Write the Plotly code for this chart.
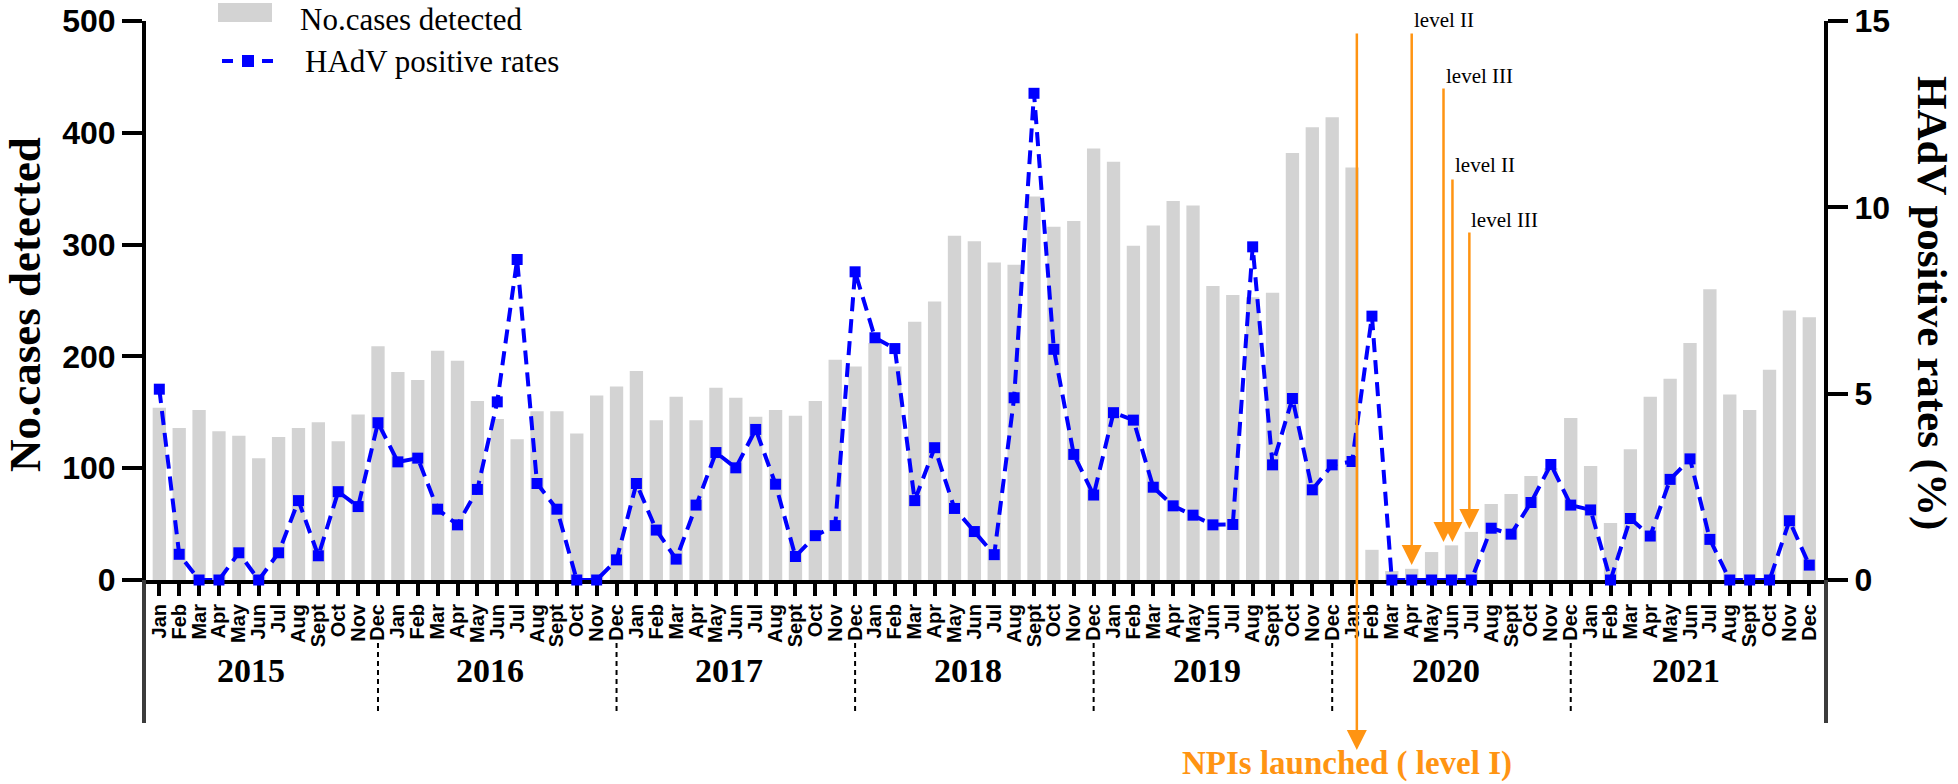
import plotly.graph_objects as go

# ---------------- data ----------------
months = ["Jan", "Feb", "Mar", "Apr", "May", "Jun", "Jul", "Aug", "Sept", "Oct", "Nov", "Dec"]
years = ["2015", "2016", "2017", "2018", "2019", "2020", "2021"]

cases_2015 = [154, 136, 152, 133, 129, 109, 128, 136, 141, 124, 148, 209]
cases_2016 = [186, 179, 205, 196, 160, 144, 126, 151, 151, 131, 165, 173]
cases_2017 = [187, 143, 164, 143, 172, 163, 146, 152, 147, 160, 197, 191]
cases_2018 = [212, 191, 231, 249, 308, 303, 284, 282, 343, 316, 321, 386]
cases_2019 = [374, 299, 317, 339, 335, 263, 255, 253, 257, 382, 405, 414]
cases_2020 = [369, 27, 8, 10, 25, 31, 43, 68, 77, 93, 100, 145]
cases_2021 = [102, 51, 117, 164, 180, 212, 260, 166, 152, 188, 241, 235]

rates_2015 = [5.12, 0.69, 0, 0, 0.73, 0, 0.73, 2.13, 0.65, 2.37, 1.97, 4.22]
rates_2016 = [3.17, 3.27, 1.90, 1.48, 2.43, 4.78, 8.60, 2.59, 1.90, 0, 0, 0.54]
rates_2017 = [2.59, 1.34, 0.56, 2.01, 3.42, 3.01, 4.04, 2.57, 0.63, 1.19, 1.46, 8.27]
rates_2018 = [6.50, 6.21, 2.13, 3.55, 1.92, 1.30, 0.68, 4.89, 13.06, 6.19, 3.37, 2.28]
rates_2019 = [4.49, 4.29, 2.49, 1.99, 1.74, 1.48, 1.49, 8.94, 3.09, 4.87, 2.42, 3.09]
rates_2020 = [3.18, 7.08, 0, 0, 0, 0, 0, 1.39, 1.23, 2.08, 3.10, 2.01]
rates_2021 = [1.88, 0, 1.65, 1.18, 2.70, 3.25, 1.09, 0, 0, 0, 1.59, 0.40]

cases = cases_2015 + cases_2016 + cases_2017 + cases_2018 + cases_2019 + cases_2020 + cases_2021
rates = rates_2015 + rates_2016 + rates_2017 + rates_2018 + rates_2019 + rates_2020 + rates_2021
month_labels = months * len(years)
idx = list(range(len(cases)))

# NPI level changes: (month position, label)
npi_events = [
    (63.0, "level II"),
    (64.6, "level III"),
    (65.05, "level II"),
    (65.9, "level III"),
]
npi_launch = (60.24, "NPIs launched ( level I)")

# ---------------- geometry helpers (styling only) ----------------
W, H = 1958, 784
L, R, T, B = 146, 134, 21, 204
PW = W - L - R
PH = H - T - B


def px(xp):
    return (xp - L) / PW


def py(yp):
    return (H - B - yp) / PH


ORANGE = "#FF9412"
SERIF = "Liberation Serif"
SANS = "Liberation Sans"

fig = go.Figure()
fig.add_trace(go.Bar(
    x=idx, y=cases, marker=dict(color="#D3D3D3", line=dict(width=0)),
    showlegend=False, yaxis="y", name="No.cases detected"))
fig.add_trace(go.Scatter(
    x=idx, y=rates, yaxis="y2", mode="lines+markers", name="HAdV positive rates",
    line=dict(color="#0000FF", width=4, dash="14px,8px"),
    marker=dict(symbol="square", size=11, color="#0000FF"),
    cliponaxis=False, showlegend=False))

shapes = []
annotations = []

# year separators
for k in range(len(years) - 1):
    xs = 11 + 12 * k
    shapes.append(dict(type="line", xref="x", yref="paper", x0=xs, x1=xs,
                       y0=py(643), y1=py(713), line=dict(color="black", width=2, dash="5px,4px")))
# axis extensions below the baseline
for xe in (-2 / PW, 1 + 2 / PW):
    shapes.append(dict(type="line", xref="paper", yref="paper", x0=xe, x1=xe,
                       y0=0, y1=py(723), line=dict(color="#3c3c3c", width=4)))

# year labels
for k, yr in enumerate(years):
    annotations.append(dict(x=4.6 + 12.03 * k, y=py(670), xref="x", yref="paper", text=yr,
                            showarrow=False, font=dict(family=SERIF, size=34, color="black", weight="bold"),
                            xanchor="center", yanchor="middle"))

# axis titles
annotations.append(dict(x=px(25), y=py(305), xref="paper", yref="paper", text="No.cases detected",
                        textangle=-90, showarrow=False,
                        font=dict(family=SERIF, size=45, color="black", weight="bold"),
                        xanchor="center", yanchor="middle"))
annotations.append(dict(x=px(1932), y=py(303), xref="paper", yref="paper", text="HAdV positive rates (%)",
                        textangle=90, showarrow=False,
                        font=dict(family=SERIF, size=43, color="black", weight="bold"),
                        xanchor="center", yanchor="middle"))

# legend (manual)
shapes.append(dict(type="rect", xref="paper", yref="paper", x0=px(218), x1=px(272),
                   y0=py(22), y1=py(3), fillcolor="#D3D3D3", line=dict(width=0)))
annotations.append(dict(x=px(298), y=py(0), xref="paper", yref="paper", text="No.cases detected",
                        showarrow=False, font=dict(family=SERIF, size=31, color="black"),
                        xanchor="left", yanchor="top"))
shapes.append(dict(type="line", xref="paper", yref="paper", x0=px(222), x1=px(274),
                   y0=py(61), y1=py(61), line=dict(color="#0000FF", width=4, dash="11px,9px")))
shapes.append(dict(type="rect", xref="paper", yref="paper", x0=px(242), x1=px(254),
                   y0=py(67), y1=py(55), fillcolor="#0000FF", line=dict(width=0)))
annotations.append(dict(x=px(303), y=py(61), xref="paper", yref="paper", text="HAdV positive rates",
                        showarrow=False, font=dict(family=SERIF, size=31, color="black"),
                        xanchor="left", yanchor="middle"))

# NPI launched arrow
annotations.append(dict(x=npi_launch[0], y=py(750), xref="x", yref="paper", text="", showarrow=True,
                        ax=0, ay=-(750 - 32), arrowhead=2, arrowsize=1.6, arrowwidth=2.5,
                        arrowcolor=ORANGE, standoff=0, startstandoff=0))
annotations.append(dict(x=px(1347), y=py(763), xref="paper", yref="paper", text=npi_launch[1],
                        showarrow=False, font=dict(family=SERIF, size=33, color=ORANGE, weight="bold"),
                        xanchor="center", yanchor="middle"))

# level arrows + labels
tips = [565, 542, 542, 529]
tops = [32, 87, 178, 231]
label_y = [20, 76, 165, 220]
label_x = [63.0, 64.6, 65.1, 65.9]
for (xm, lab), tip, top, ly, lx in zip(npi_events, tips, tops, label_y, label_x):
    annotations.append(dict(x=xm, y=py(tip), xref="x", yref="paper", text="", showarrow=True,
                            ax=0, ay=-(tip - top), arrowhead=2, arrowsize=1.6, arrowwidth=2.5,
                            arrowcolor=ORANGE, standoff=0, startstandoff=0))
    annotations.append(dict(x=lx, y=py(ly), xref="x", yref="paper", text=lab, showarrow=False,
                            font=dict(family=SERIF, size=21, color="black"),
                            xanchor="left", yanchor="middle"))

axis_common = dict(showline=True, linewidth=4, linecolor="black", ticks="outside",
                   tickcolor="black", showgrid=False, zeroline=False, automargin=False)

fig.update_layout(
    width=W, height=H,
    margin=dict(l=L, r=R, t=T, b=B, pad=0, autoexpand=False),
    paper_bgcolor="white", plot_bgcolor="white",
    bargap=0.33,
    showlegend=False,
    xaxis=dict(range=[-0.67, 83.74], tickmode="array", tickvals=idx, ticktext=month_labels,
               tickangle=-90, ticklen=12, tickwidth=3.5, layer="below traces",
               tickfont=dict(family=SANS, size=20, color="black", weight="bold"),
               **axis_common),
    yaxis=dict(range=[0, 500], tickmode="array", tickvals=[0, 100, 200, 300, 400, 500],
               ticklen=20, tickwidth=4,
               tickfont=dict(family=SANS, size=32, color="black", weight="bold"),
               **axis_common),
    yaxis2=dict(range=[0, 15], overlaying="y", side="right", tickmode="array",
                tickvals=[0, 5, 10, 15], ticklen=20, tickwidth=4,
                tickfont=dict(family=SANS, size=32, color="black", weight="bold"),
                **axis_common),
    shapes=shapes,
    annotations=annotations,
)

fig.write_html("out.html", config={"displayModeBar": False},
               post_script="document.body.style.margin='0px';document.body.style.overflow='hidden';")
